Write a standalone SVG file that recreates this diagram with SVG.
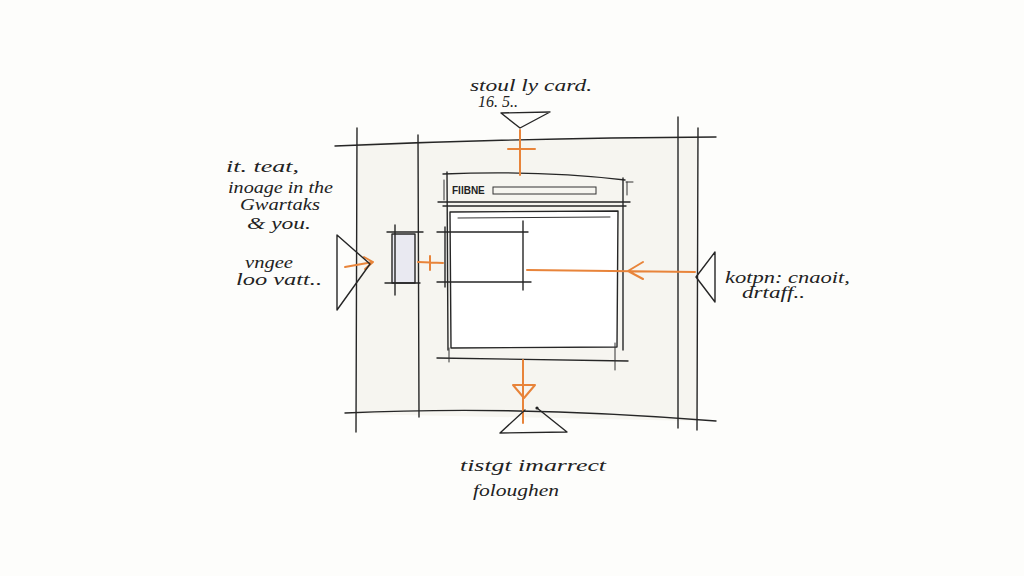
<svg xmlns="http://www.w3.org/2000/svg" width="1024" height="576" viewBox="0 0 1024 576">
<defs>
<style>
.ink{fill:none;stroke:#262626;stroke-width:1.4;stroke-linecap:round;stroke-linejoin:round}
.thin{fill:none;stroke:#333;stroke-width:1;stroke-linecap:round}
.or{fill:none;stroke:#e8843a;stroke-width:2;stroke-linecap:round;stroke-linejoin:round}
.hw{font-family:"Liberation Serif",serif;font-style:italic;font-size:16px;fill:#222}
.ttl{font-family:"Liberation Sans",sans-serif;font-size:10px;font-weight:bold;fill:#222}
</style>
</defs>
<rect width="1024" height="576" fill="#fdfdfb"/>
<path d="M357 143 L698 136 L698 421 L357 414 Z" fill="#f6f5f0"/>
<g id="frame">
<path class="ink" d="M335 146 Q520 138 716 137"/>
<path class="ink" d="M345 413 Q520 405 716 421"/>
<path class="ink" d="M357 128 L356 432"/>
<path class="ink" d="M418 135 L419 417"/>
<path class="ink" d="M678 117 L678 428"/>
<path class="ink" d="M698 128 L697 430"/>
</g>
<g id="browser">
<rect x="450" y="212" width="168" height="136" fill="#ffffff"/>
<path class="ink" d="M443 174 Q540 170 625 180"/>
<path class="ink" d="M447 172 L448 350"/>
<path class="ink" d="M623 178 L623 350"/>
<path class="thin" d="M626 182 L633 182 M627 182 L627 195 M444 180 L444 200"/>
<text class="ttl" x="452" y="194">FIlBNE</text>
<rect class="thin" x="493" y="187" width="103" height="7"/>
<path class="ink" d="M438 202 L630 202"/>
<path class="ink" d="M443 206 L626 206"/>
<path class="ink" d="M450 212 L618 211 L617 347 L451 348 Z"/>
<path class="thin" d="M458 218 L610 217"/>
<path class="ink" d="M437 232 L528 232"/>
<path class="ink" d="M437 282 L531 282"/>
<path class="ink" d="M523 221 L523 290"/>
<path class="ink" d="M445 227 L445 287"/>
<path class="ink" d="M437 358 L628 361"/>
<path class="thin" d="M615 343 L615 370 M449 348 L449 362"/>
</g>
<g id="sidepanel">
<rect x="392" y="234" width="23" height="49" fill="#e9e9f1"/>
<path class="ink" d="M392 234 L415 234 L415 283 L392 283 Z"/>
<path class="ink" d="M387 232 L423 232 M385 283 L420 283 M395 225 L395 295"/>
</g>
<g id="connectors">
<path class="or" d="M520 130 L520 175 M508 149 L535 149"/>
<path class="or" d="M527 270 L695 272 M643 262 L628 271 L643 279"/>
<path class="or" d="M345 267 L373 262 M364 257 L373 262 L365 269"/>
<path class="or" d="M418 262 L443 263 M430 256 L430 270"/>
<path class="or" d="M523 360 L523 423 M513 385 L535 385 L524 398 Z"/>
</g>
<g id="top-node">
<path class="ink" d="M501 113 L550 112 L520 128 Z"/>
<text class="hw" x="470" y="91" textLength="122" lengthAdjust="spacingAndGlyphs">stoul ly card.</text>
<text class="hw" x="478" y="107" font-size="11">16. 5..</text>
</g>
<g id="left-node">
<path class="ink" d="M337 235 L370 264 L337 310 Z"/>
<text class="hw" x="226" y="172" textLength="73" lengthAdjust="spacingAndGlyphs">it. teat,</text>
<text class="hw" x="228" y="193" textLength="105" lengthAdjust="spacingAndGlyphs">inoage in the</text>
<text class="hw" x="240" y="210" textLength="80" lengthAdjust="spacingAndGlyphs">Gwartaks</text>
<text class="hw" x="247" y="229" textLength="64" lengthAdjust="spacingAndGlyphs">&amp; you.</text>
<text class="hw" x="245" y="268" textLength="48" lengthAdjust="spacingAndGlyphs">vngee</text>
<text class="hw" x="236" y="285" textLength="86" lengthAdjust="spacingAndGlyphs">loo vatt..</text>
</g>
<g id="right-node">
<path class="ink" d="M715 252 L715 302 L696 277 Z"/>
<text class="hw" x="725" y="283" textLength="125" lengthAdjust="spacingAndGlyphs">kotpn: cnaoit,</text>
<text class="hw" x="742" y="298" textLength="63" lengthAdjust="spacingAndGlyphs">drtaff..</text>
</g>
<g id="bottom-node">
<path class="ink" d="M525 410 L500 433 L567 432 L537 408"/>
<circle cx="537" cy="408" r="1.6" fill="#222"/>
<text class="hw" x="460" y="471" textLength="146" lengthAdjust="spacingAndGlyphs">tistgt imarrect</text>
<text class="hw" x="473" y="496" textLength="86" lengthAdjust="spacingAndGlyphs">foloughen</text>
</g>
</svg>
